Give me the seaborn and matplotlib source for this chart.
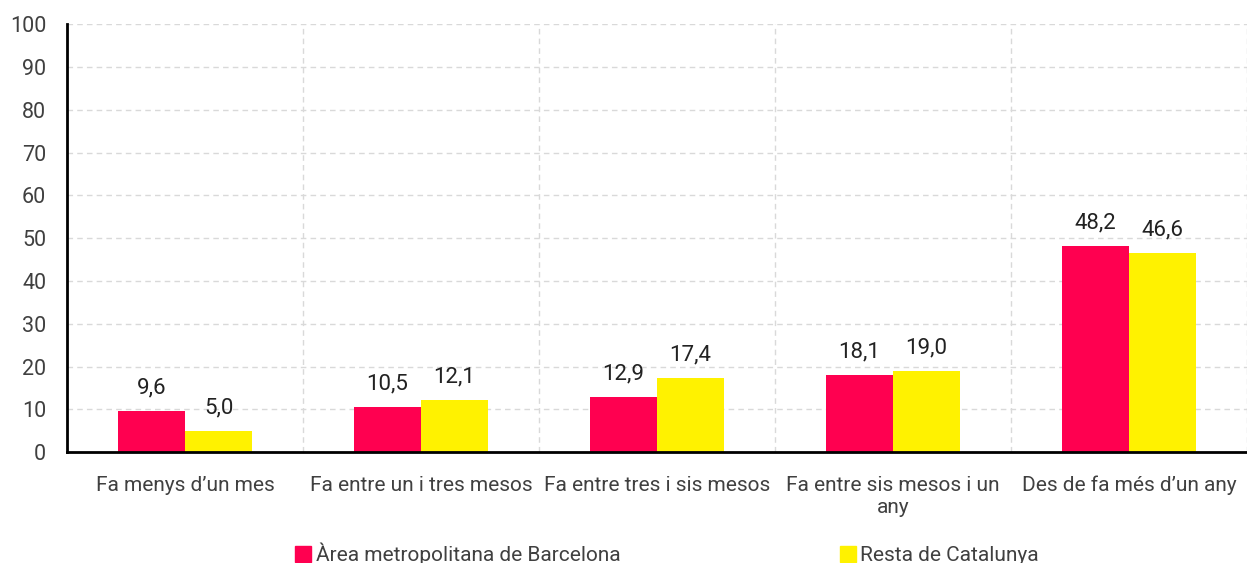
import pandas as pd
import numpy as np
import matplotlib.pyplot as plt
import seaborn as sns
from matplotlib.lines import Line2D

# Chart data
categories = ["Fa menys d\u2019un mes", "Fa entre un i tres mesos", "Fa entre tres i sis mesos",
              "Fa entre sis mesos i un\nany", "Des de fa més d\u2019un any"]
series = ["Àrea metropolitana de Barcelona", "Resta de Catalunya"]
amb = [9.6, 10.5, 12.9, 18.1, 48.2]
resta = [5.0, 12.1, 17.4, 19.0, 46.6]
colors = ["#FF0050", "#FFF200"]

df = pd.DataFrame({
    "cat": categories * 2,
    "serie": [series[0]] * 5 + [series[1]] * 5,
    "valor": amb + resta,
})

sns.set_style("white")
plt.rcParams["font.family"] = ["Roboto", "DejaVu Sans"]
txt = "#404040"

fig = plt.figure(figsize=(12.47, 5.63), dpi=100)
ax = fig.add_axes([0.0537, 0.197, 0.9463, 0.760])

sns.barplot(data=df, x="cat", y="valor", hue="serie", palette=colors,
            width=0.57, gap=0, saturation=1, linewidth=0, ax=ax, legend=False)

# value labels
for cont in ax.containers:
    ax.bar_label(cont, labels=[f"{v:.1f}".replace(".", ",") for v in cont.datavalues],
                 padding=9, fontsize=16, color="#222222")

ax.set_xlim(-0.5, 4.5)
ax.set_ylim(0, 100)
ax.set_yticks(np.arange(0, 101, 10))
ax.set_xlabel("")
ax.set_ylabel("")

# category boundary ticks and grid
ax.set_xticks(np.arange(-0.5, 4.6, 1), minor=True)
ax.tick_params(axis="x", which="major", length=0, labelsize=15, labelcolor=txt, pad=17)
ax.tick_params(axis="x", which="minor", length=7, width=2, color="black", direction="out")
ax.tick_params(axis="y", length=6, width=2, color="black", labelsize=15.5, labelcolor=txt, pad=9)
ax.yaxis.grid(True, linestyle=(0, (4, 3)), color="#d9d9d9", linewidth=1)
ax.xaxis.grid(True, which="minor", linestyle=(0, (4, 3)), color="#d9d9d9", linewidth=1)
ax.set_axisbelow(True)

for s in ["top", "right"]:
    ax.spines[s].set_visible(False)
for s in ["left", "bottom"]:
    ax.spines[s].set_linewidth(2)
    ax.spines[s].set_color("black")

handles = [Line2D([], [], marker="s", linestyle="", markersize=12,
                  markerfacecolor=c, markeredgecolor=c) for c in colors]
fig.legend(handles, series, loc="center", bbox_to_anchor=(0.534, 0.016), ncol=2,
           frameon=False, fontsize=15, labelcolor=txt, columnspacing=10.4,
           handletextpad=0.1, handlelength=1.0)

fig.savefig("out.png", dpi=100)
